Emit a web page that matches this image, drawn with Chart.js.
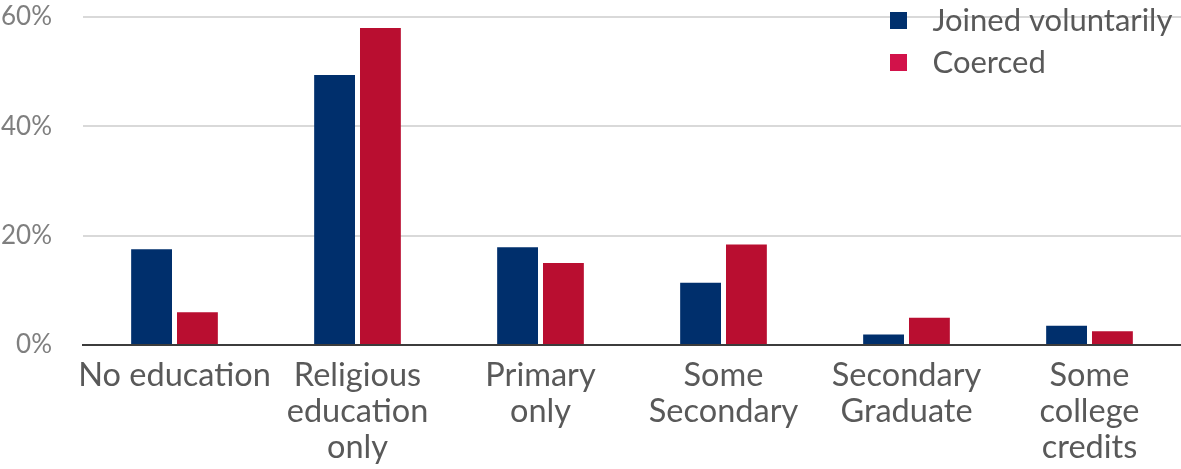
<!DOCTYPE html>
<html>
<head>
<meta charset="utf-8">
<script src="https://cdn.jsdelivr.net/npm/chart.js@4.4.1/dist/chart.umd.min.js"></script>
<style>
  html, body { margin: 0; padding: 0; background: #ffffff; }
  #wrap { width: 1181px; height: 469px; position: relative; }
</style>
</head>
<body>
<div id="wrap"><canvas id="chart"></canvas></div>
<script>
// Education level of recruits, share by type of recruitment
const categories = [
  ['No education'],
  ['Religious', 'education', 'only'],
  ['Primary', 'only'],
  ['Some', 'Secondary'],
  ['Secondary', 'Graduate'],
  ['Some', 'college', 'credits']
];
const seriesNames = ['Joined voluntarily', 'Coerced'];
const joinedVoluntarily = [17.5, 49.4, 17.9, 11.4, 1.9, 3.5];
const coerced = [6.0, 58.0, 15.0, 18.4, 5.0, 2.5];
const yTicks = [0, 20, 40, 60];

const BLUE = '#002f6c';
const RED = '#b90e30';
const LEGEND_COLORS = ['#00306d', '#d2124a'];
const FONT = 'Lato, "Open Sans", sans-serif';

// Legend swatch: a 17px square at the left of a wider transparent canvas
const SWATCH_W = 27;
function swatch(color, w) {
  const c = document.createElement('canvas');
  c.width = w; c.height = 17;
  const g = c.getContext('2d');
  g.fillStyle = color;
  g.fillRect(0, 0, 17, 17);
  return c;
}

// Keep the legend in the top-right corner, over the plot
const legendPlacer = {
  id: 'legendPlacer',
  beforeDraw(chart) {
    const lg = chart.legend;
    if (!lg) return;
    const w = lg.width, h = lg.height;
    lg.left = 879; lg.top = -6;
    lg.right = lg.left + w; lg.bottom = lg.top + h;
  }
};

new Chart(document.getElementById('chart'), {
  type: 'bar',
  data: {
    labels: categories,
    datasets: [
      { label: seriesNames[0], data: joinedVoluntarily, backgroundColor: BLUE },
      { label: seriesNames[1], data: coerced, backgroundColor: RED }
    ]
  },
  options: {
    responsive: true,
    maintainAspectRatio: false,
    animation: false,
    layout: { padding: { top: 17, right: -3, left: 0, bottom: 0 } },
    datasets: {
      bar: { categoryPercentage: 0.501, barPercentage: 0.891 }
    },
    plugins: {
      tooltip: { enabled: false },
      legend: {
        position: 'chartArea',
        fullSize: false,
        align: 'start',
        labels: {
          font: { family: FONT, size: 31 },
          color: '#595959',
          usePointStyle: true,
          pointStyleWidth: SWATCH_W,
          boxHeight: 17,
          padding: 11,
          generateLabels(chart) {
            return chart.data.datasets.map((ds, i) => ({
              text: ds.label,
              pointStyle: swatch(LEGEND_COLORS[i], SWATCH_W),
              fillStyle: LEGEND_COLORS[i],
              strokeStyle: 'transparent',
              lineWidth: 0,
              fontColor: '#595959',
              datasetIndex: i,
              hidden: false
            }));
          }
        }
      }
    },
    scales: {
      x: {
        grid: { display: false, drawTicks: false },
        border: { display: true, color: '#3c3c3c', width: 2 },
        ticks: {
          font: { family: FONT, size: 32.5, lineHeight: 1.1 },
          color: '#595959',
          padding: 13,
          maxRotation: 0,
          autoSkip: false
        },
        afterFit(scale) {
          scale.height = 124;
          scale.paddingLeft = 0; scale.paddingRight = 0;
        }
      },
      y: {
        min: 0,
        max: 60,
        afterBuildTicks(scale) { scale.ticks = yTicks.map(v => ({ value: v })); },
        grid: { color: '#d9d9d9', lineWidth: 2, drawTicks: false },
        border: { display: false },
        ticks: {
          font: { family: FONT, size: 26 },
          color: '#7f7f7f',
          padding: 31,
          callback: v => v + '%'
        },
        afterFit(scale) {
          scale.width = 83;
          scale.paddingTop = 0; scale.paddingBottom = 0;
        }
      }
    }
  },
  plugins: [legendPlacer]
});
</script>
</body>
</html>
